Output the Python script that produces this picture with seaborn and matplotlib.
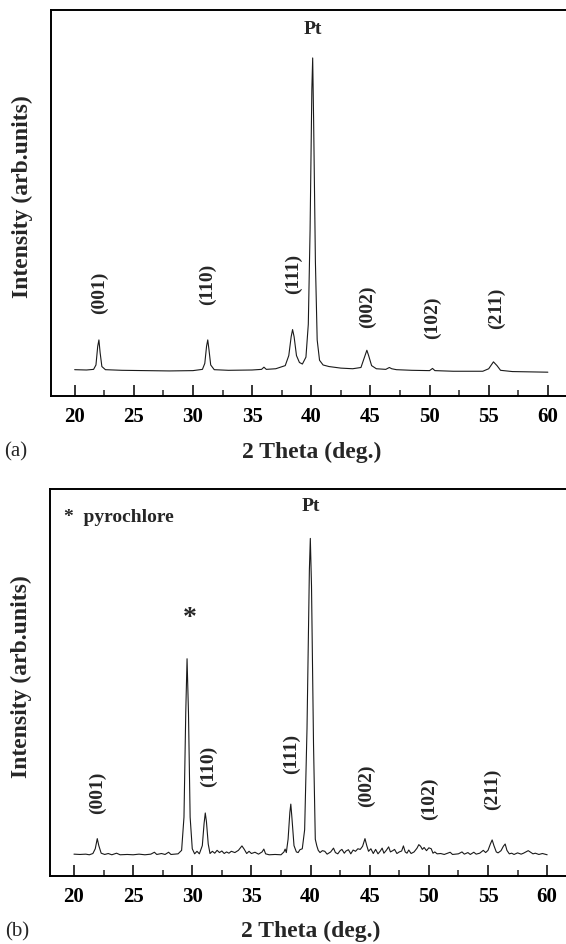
import matplotlib
matplotlib.use("Agg")
import matplotlib.pyplot as plt
import seaborn as sns
from matplotlib.ticker import MultipleLocator

# --- data ---
theta_a = [20.0, 21.0, 21.6, 21.8, 21.95, 22.05, 22.15, 22.3, 22.6, 24.0, 26.0, 28.0,
           30.0, 30.8, 31.0, 31.15, 31.25, 31.35, 31.5, 31.8, 33.0, 35.0, 35.8, 36.0,
           36.2, 37.0, 37.8, 38.1, 38.3, 38.42, 38.55, 38.75, 39.0, 39.25, 39.55, 39.75,
           39.9, 40.05, 40.12, 40.2, 40.35, 40.5, 40.7, 41.0, 41.5, 42.5, 43.5, 44.2,
           44.5, 44.7, 44.85, 45.1, 45.5, 46.3, 46.6, 46.8, 47.2, 48.5, 50.0, 50.25,
           50.45, 52.0, 54.5, 55.0, 55.4, 55.7, 56.0, 57.0, 58.5, 60.0]
int_a = [0.5, 0.4, 0.6, 2.0, 8.0, 10.0, 6.0, 1.5, 0.5, 0.3, 0.2, 0.1,
         0.2, 0.6, 2.5, 8.0, 10.0, 7.0, 2.0, 0.5, 0.3, 0.4, 0.6, 1.3,
         0.6, 0.8, 1.8, 5.0, 11.0, 13.3, 11.0, 5.0, 2.8, 2.3, 4.5, 15.0,
         45.0, 90.0, 100.0, 80.0, 35.0, 10.0, 3.5, 2.0, 1.5, 1.0, 0.8, 1.2,
         4.5, 6.7, 5.0, 1.8, 0.8, 0.6, 1.2, 0.8, 0.5, 0.3, 0.2, 0.9,
         0.2, 0.0, 0.0, 0.8, 3.0, 1.8, 0.3, -0.1, -0.2, -0.3]

theta_b = [20.0, 20.5, 21.0, 21.3, 21.6, 21.8, 21.97, 22.1, 22.3, 22.6, 22.9, 23.2,
           23.6, 23.9, 24.5, 25.0, 25.5, 26.0, 26.5, 26.8, 27.0, 27.4, 27.7, 28.0,
           28.2, 28.8, 29.1, 29.3, 29.45, 29.56, 29.68, 29.82, 30.0, 30.2, 30.4, 30.6,
           30.85, 31.0, 31.1, 31.2, 31.35, 31.5, 31.7, 31.9, 32.1, 32.3, 32.5, 32.7,
           32.9, 33.1, 33.3, 33.6, 33.9, 34.2, 34.4, 34.6, 34.8, 35.0, 35.3, 35.6,
           35.9, 36.05, 36.2, 36.5, 37.0, 37.5, 37.75, 37.85, 37.95, 38.1, 38.25, 38.33,
           38.42, 38.6, 38.8, 38.95, 39.1, 39.3, 39.5, 39.7, 39.9, 39.98, 40.08, 40.25,
           40.4, 40.53, 40.65, 40.8, 41.0, 41.2, 41.4, 41.7, 41.94, 42.1, 42.3, 42.5,
           42.65, 42.85, 43.0, 43.2, 43.4, 43.6, 43.8, 44.0, 44.2, 44.4, 44.6, 44.75,
           44.9, 45.1, 45.3, 45.5, 45.7, 45.9, 46.05, 46.2, 46.4, 46.6, 46.75, 46.95,
           47.1, 47.3, 47.5, 47.7, 47.85, 48.0, 48.15, 48.3, 48.5, 48.75, 49.0, 49.15,
           49.3, 49.45, 49.6, 49.8, 50.0, 50.2, 50.35, 50.5, 50.7, 51.0, 51.3, 51.6,
           51.8, 52.0, 52.5, 52.8, 53.0, 53.3, 53.5, 53.8, 54.0, 54.3, 54.6, 54.8,
           55.0, 55.2, 55.35, 55.5, 55.7, 55.85, 56.1, 56.3, 56.45, 56.6, 56.8, 57.0,
           57.2, 57.5, 57.8, 58.0, 58.4, 58.6, 58.8, 59.0, 59.3, 59.6, 60.0]
int_b = [0.3, 0.2, 0.3, 0.1, 0.5, 2.0, 5.2, 3.0, 0.6, 0.2, 0.5, 0.1,
         0.6, 0.1, 0.2, 0.1, 0.3, 0.1, 0.3, 0.9, 0.2, 0.5, 0.2, 0.9,
         0.2, 0.4, 1.5, 12.0, 45.0, 62.0, 45.0, 12.0, 2.0, 0.4, 1.2, 0.4,
         3.0, 10.0, 13.3, 10.5, 3.5, 0.5, 1.2, 0.6, 1.5, 0.8, 1.3, 0.5,
         1.0, 0.6, 1.2, 0.8, 1.5, 2.9, 1.8, 0.5, 1.2, 0.5, 0.9, 0.3,
         1.0, 1.9, 0.4, 0.1, 0.2, 0.1, 1.0, 1.9, 0.8, 5.0, 13.5, 16.1,
         12.0, 3.0, 1.0, 0.8, 1.7, 2.0, 8.0, 40.0, 90.0, 100.0, 85.0, 35.0,
         5.0, 2.9, 1.5, 0.8, 1.4, 1.2, 0.3, 1.0, 2.2, 0.8, 0.4, 1.4,
         1.8, 0.6, 1.3, 1.7, 0.4, 1.6, 1.2, 2.0, 1.8, 2.8, 5.2, 3.0,
         1.2, 2.0, 0.5, 1.8, 0.4, 1.3, 2.2, 0.6, 1.5, 2.6, 1.0, 1.4,
         1.8, 0.5, 1.0, 1.3, 2.9, 1.0, 0.6, 1.6, 0.5, 1.0, 2.2, 3.3,
         2.8, 1.8, 2.4, 1.4, 2.3, 2.0, 0.6, 1.0, 0.4, 0.5, 0.2, 0.6,
         0.9, 0.2, 0.4, 1.0, 0.3, 0.8, 0.2, 0.9, 0.3, 0.6, 1.5, 0.8,
         1.5, 3.5, 4.8, 3.0, 1.0, 0.7, 1.4, 2.8, 3.5, 1.5, 0.4, 0.6,
         0.2, 0.7, 0.3, 0.6, 1.4, 0.9, 0.4, 0.6, 0.2, 0.5, 0.1]

hkl = ["(001)", "(110)", "(111)", "(002)", "(102)", "(211)"]
hkl_x_a = [22.08, 31.24, 38.47, 44.76, 50.26, 55.66]
hkl_y_a = [25.4, 27.9, 31.4, 20.9, 17.3, 20.4]
hkl_x_b = [21.99, 31.40, 38.42, 44.69, 50.03, 55.35]
hkl_y_b = [20.1, 28.2, 32.3, 22.2, 18.1, 21.0]
xticks = [20, 25, 30, 35, 40, 45, 50, 55, 60]

sns.set_theme(style="white")
plt.rcParams["font.family"] = ["Liberation Serif", "DejaVu Serif"]
plt.rcParams["font.weight"] = "bold"

W, H = 566, 945
fig = plt.figure(figsize=(W / 100, H / 100), dpi=100)

XMIN, XMAX = 18.0, 62.0
PX_PER_DEG = 11.83


def make_axes(left_px, top_px, bottom_px):
    width_px = (XMAX - XMIN) * PX_PER_DEG
    return fig.add_axes([left_px / W, 1 - bottom_px / H, width_px / W,
                         (bottom_px - top_px) / H])


def style_axes(ax, ylim):
    ax.set_xlim(XMIN, XMAX)
    ax.set_ylim(*ylim)
    ax.set_xticks(xticks)
    ax.set_xticklabels([str(t) for t in xticks], fontsize=15, fontweight="bold")
    ax.xaxis.set_minor_locator(MultipleLocator(2.5))
    ax.tick_params(axis="x", which="major", direction="in", length=8, width=1.1,
                   bottom=True, top=False, pad=7.5, colors="black")
    ax.tick_params(axis="x", which="minor", direction="in", length=4, width=1.1,
                   bottom=True, top=False)
    ax.set_yticks([])
    for s in ["left", "top", "bottom"]:
        ax.spines[s].set_color("black")
        ax.spines[s].set_linewidth(1.4)
    ax.spines["right"].set_visible(False)
    ax.set_xlabel("")
    ax.set_ylabel("Intensity (arb.units)", fontsize=17, fontweight="bold")
    ax.yaxis.label.set_verticalalignment("center")
    ax.yaxis.set_label_coords(-0.055, 0.518)


def add_xlabel(ax, y_px_center, bottom_px, top_px):
    frac_x = (40 - XMIN) / (XMAX - XMIN)
    frac_y = (bottom_px - y_px_center) / (bottom_px - top_px)
    ax.text(frac_x, frac_y, "2 Theta (deg.)", transform=ax.transAxes,
            ha="center", va="center", fontsize=17, fontweight="bold")


# ---------- (a) ----------
ax1 = make_axes(51.0, 10.7, 397.0)
sns.lineplot(x=theta_a, y=int_a, ax=ax1, color="#1a1a1a", linewidth=0.8)
style_axes(ax1, (-7.9, 115.4))
for lab, x, y in zip(hkl, hkl_x_a, hkl_y_a):
    ax1.text(x, y, lab, rotation=90, ha="center", va="center", fontsize=14,
             fontweight="bold")
ax1.text(40.12, 109.5, "Pt", ha="center", va="center", fontsize=14, fontweight="bold")
add_xlabel(ax1, 452, 397.0, 10.7)
fig.text(16 / W, 1 - 452 / H, "(a)", ha="center", va="center", fontsize=15,
         fontweight="normal")

# ---------- (b) ----------
ax2 = make_axes(50.3, 490.0, 877.0)
sns.lineplot(x=theta_b, y=int_b, ax=ax2, color="#1a1a1a", linewidth=0.8)
style_axes(ax2, (-6.6, 115.6))
for lab, x, y in zip(hkl, hkl_x_b, hkl_y_b):
    ax2.text(x, y, lab, rotation=90, ha="center", va="center", fontsize=14,
             fontweight="bold")
ax2.text(40.0, 110.5, "Pt", ha="center", va="center", fontsize=14, fontweight="bold")
ax2.text(29.78, 75.0, "*", ha="center", va="center", fontsize=20, fontweight="bold")
ax2.text(19.2, 107.0, "*  pyrochlore", ha="left", va="center", fontsize=14,
         fontweight="bold")
add_xlabel(ax2, 931, 877.0, 490.0)
fig.text(17 / W, 1 - 932 / H, "(b)", ha="center", va="center", fontsize=15,
         fontweight="normal")

fig.savefig("out.png", dpi=100)
